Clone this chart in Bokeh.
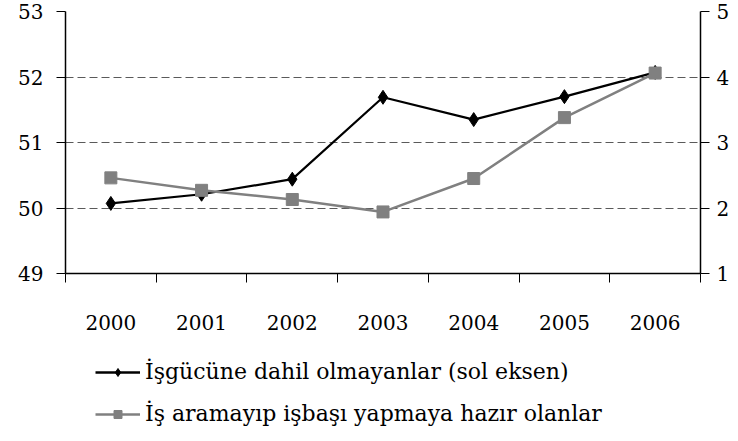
from bokeh.plotting import figure
from bokeh.layouts import column
from bokeh.models import (Range1d, LinearAxis, FixedTicker, Legend, LegendItem)
from bokeh.embed import file_html
from bokeh.resources import INLINE

years = [2000, 2001, 2002, 2003, 2004, 2005, 2006]
not_in_labour = [50.07, 50.21, 50.44, 51.69, 51.35, 51.70, 52.07]
ready_to_work = [2.46, 2.27, 2.13, 1.94, 2.45, 3.38, 4.06]
left_ticks = [49, 50, 51, 52, 53]
right_ticks = [1, 2, 3, 4, 5]
label1 = "İşgücüne dahil olmayanlar (sol eksen)"
label2 = "İş aramayıp işbaşı yapmaya hazır olanlar"

FONT = "DejaVu Serif"
FS = "20px"
BLACK = "black"
GREY = "#808080"

p = figure(width=738, height=335, output_backend="svg", toolbar_location=None,
           x_range=Range1d(years[0] - 0.5, years[-1] + 0.5),
           y_range=Range1d(left_ticks[0], left_ticks[-1]),
           min_border_left=65, min_border_right=38, min_border_top=11,
           min_border_bottom=62)
p.outline_line_color = None
p.background_fill_color = "white"
p.border_fill_color = "white"

p.extra_y_ranges = {"right": Range1d(right_ticks[0], right_ticks[-1])}

bounds = [y - 0.5 for y in years] + [years[-1] + 0.5]

xa = p.xaxis[0]
xa.ticker = FixedTicker(ticks=years, minor_ticks=bounds)
xa.major_tick_out = 0
xa.major_tick_in = 0
xa.minor_tick_out = 9
xa.minor_tick_in = 0
xa.minor_tick_line_color = "black"
xa.axis_line_color = "black"
xa.axis_line_width = 1.5
xa.major_label_standoff = 32
xa.major_label_text_font = FONT
xa.major_label_text_font_size = FS
xa.major_label_text_color = "black"

ya = p.yaxis[0]
ya.ticker = FixedTicker(ticks=left_ticks, minor_ticks=[])
ya.major_tick_out = 9
ya.major_tick_in = 0
ya.minor_tick_out = 0
ya.axis_line_color = "black"
ya.axis_line_width = 1.5
ya.major_label_standoff = 13
ya.major_label_text_font = FONT
ya.major_label_text_font_size = FS
ya.major_label_text_color = "black"

ra = LinearAxis(y_range_name="right", ticker=FixedTicker(ticks=right_ticks, minor_ticks=[]))
ra.major_tick_out = 9
ra.major_tick_in = 0
ra.minor_tick_out = 0
ra.axis_line_color = "black"
ra.axis_line_width = 1.5
ra.major_label_standoff = 7
ra.major_label_text_font = FONT
ra.major_label_text_font_size = FS
ra.major_label_text_color = "black"
p.add_layout(ra, "right")

p.xgrid.visible = False
p.ygrid.grid_line_color = "#5a5a5a"
p.ygrid.grid_line_dash = "8 4"
p.ygrid.grid_line_width = 1

p.line(years, not_in_labour, line_color=BLACK, line_width=2.2)
p.scatter(years, not_in_labour, marker="diamond", size=14, fill_color=BLACK, line_color=BLACK)
p.line(years, ready_to_work, line_color=GREY, line_width=2.5, y_range_name="right")
p.scatter(years, ready_to_work, marker="square", size=12, fill_color=GREY,
          line_color=GREY, y_range_name="right")

# legend-only figure below the chart (its data range is kept out of view,
# the renderers only supply the legend swatches)
lf = figure(width=738, height=106, output_backend="svg", toolbar_location=None,
            x_range=Range1d(0, 1), y_range=Range1d(0, 1),
            min_border=0, min_border_left=0, min_border_right=0,
            min_border_top=0, min_border_bottom=0)
lf.axis.visible = False
lf.grid.visible = False
lf.outline_line_color = None
lf.background_fill_color = "white"
lf.border_fill_color = "white"

ll1 = lf.line(years, not_in_labour, line_color=BLACK, line_width=2.5)
lm1 = lf.scatter(years, not_in_labour, marker="diamond", size=15, fill_color=BLACK, line_color=BLACK)
ll2 = lf.line(years, ready_to_work, line_color=GREY, line_width=2.5)
lm2 = lf.scatter(years, ready_to_work, marker="square", size=13, fill_color=GREY, line_color=GREY)

legend = Legend(items=[LegendItem(label=label1, renderers=[ll1, lm1]),
                       LegendItem(label=label2, renderers=[ll2, lm2])],
                orientation="vertical", location=(30, 15))
legend.label_text_font = FONT
legend.label_text_font_size = "22px"
legend.label_text_color = "black"
legend.glyph_width = 45
legend.glyph_height = 20
legend.label_height = 20
legend.label_standoff = 5
legend.spacing = 17
legend.padding = 0
legend.margin = 0
legend.border_line_color = None
legend.background_fill_alpha = 0
lf.add_layout(legend, "center")

layout = column(p, lf, spacing=0)
open("out.html", "w").write(file_html(layout, INLINE))
